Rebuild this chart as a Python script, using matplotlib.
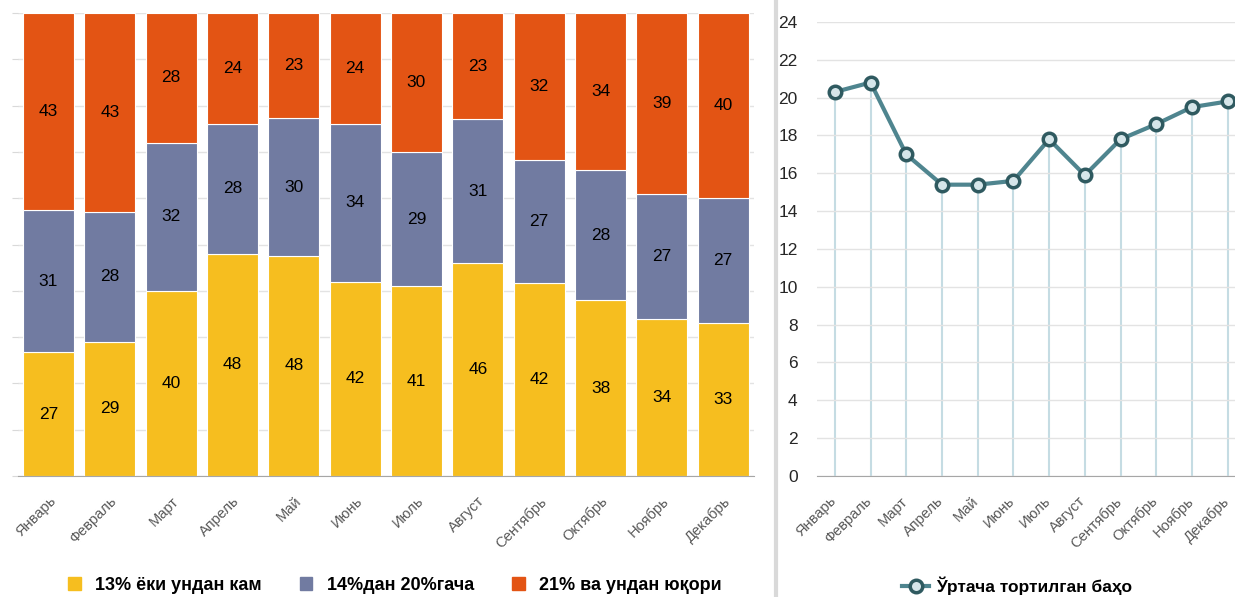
import numpy as np
import matplotlib.pyplot as plt
import matplotlib.transforms as mtransforms
from matplotlib.patches import Patch
from matplotlib.lines import Line2D

plt.rcParams['font.family'] = ['Liberation Sans', 'DejaVu Sans']

months = ['Январь', 'Февраль', 'Март', 'Апрель', 'Май', 'Июнь',
          'Июль', 'Август', 'Сентябрь', 'Октябрь', 'Ноябрь', 'Декабрь']

# share of respondents, %
low = [27, 29, 40, 48, 48, 42, 41, 46, 42, 38, 34, 33]
mid = [31, 28, 32, 28, 30, 34, 29, 31, 27, 28, 27, 27]
high = [43, 43, 28, 24, 23, 24, 30, 23, 32, 34, 39, 40]
series_names = ['13% ёки ундан кам', '14%дан 20%гача', '21% ва ундан юқори']
colors = ['#F6BE1F', '#717BA1', '#E35414']

# weighted average estimate
avg = [20.3, 20.8, 17.0, 15.4, 15.4, 15.6, 17.8, 15.9, 17.8, 18.6, 19.5, 19.8]
avg_name = 'Ўртача тортилган баҳо'

fig = plt.figure(figsize=(12.35, 5.97), dpi=100)

# left: 100% stacked bars
ax1 = fig.add_axes([0.0144, 0.2027, 0.596, 0.7755])
x = np.arange(len(months))
data = np.array([low, mid, high], dtype=float)
shares = data / data.sum(axis=0) * 100
bottom = np.zeros(len(months))
for vals, share, c in zip(data, shares, colors):
    ax1.bar(x, share, 0.83, bottom=bottom, color=c, edgecolor='white', linewidth=0.8, zorder=2)
    for xi, b, s, v in zip(x, bottom, share, vals):
        ax1.text(xi, b + s / 2, f'{v:.0f}', ha='center', va='center', fontsize=12.5, color='black', zorder=3)
    bottom += share
ax1.set_xlim(-0.5, len(months) - 0.5)
ax1.set_ylim(0, 100)
ax1.set_yticks(np.arange(0, 101, 10))
ax1.set_yticklabels([])
ax1.tick_params(axis='y', length=4, color='#d9d9d9')
ax1.grid(axis='y', color='#e3e3e3', lw=1, zorder=0)
ax1.set_xticks(x)
ax1.set_xticklabels(months, rotation=45, ha='right', rotation_mode='anchor', fontsize=10.5, color='#595959')
ax1.tick_params(axis='x', length=0, pad=13)
for s in ['top', 'right', 'left']:
    ax1.spines[s].set_visible(False)
ax1.spines['bottom'].set_color('#a6a6a6')

handles = [Patch(color=c) for c in colors]
fig.legend(handles, series_names, loc='center', bbox_to_anchor=(395 / 1235, 1 - 585 / 597), ncol=3,
           frameon=False, handlelength=0.7, handleheight=0.7, columnspacing=2.1, handletextpad=0.8,
           prop={'weight': 'bold', 'size': 13})

# separator
fig.add_artist(Line2D([776 / 1235, 776 / 1235], [0, 1], color='#d9d9d9', lw=3))

# right: line chart
ax2 = fig.add_axes([817 / 1235, 0.2027, 0.347, 454 / 597])
ax2.vlines(x, 0, avg, color='#c5dce3', lw=1.5, zorder=1)
ax2.plot(x, avg, color='#4f858f', lw=3, marker='o', markersize=9, markerfacecolor='#d6e6ea',
         markeredgecolor='#2f5a60', markeredgewidth=2.5, zorder=3, clip_on=False, label=avg_name)
ax2.set_xlim(-0.5, len(months) - 0.5)
ax2.set_ylim(0, 24)
ax2.set_yticks(np.arange(0, 25, 2))
ax2.tick_params(axis='y', length=0, labelsize=12.5, labelcolor='#262626', pad=14)
ax2.grid(axis='y', color='#e3e3e3', lw=1, zorder=0)
ax2.set_xticks(x)
ax2.set_xticklabels(months, rotation=45, ha='right', rotation_mode='anchor', fontsize=10.5, color='#595959')
ax2.tick_params(axis='x', length=0, pad=13)
shift = mtransforms.ScaledTranslation(-6 / 100, 0, fig.dpi_scale_trans)
for lbl in ax2.get_xticklabels():
    lbl.set_transform(lbl.get_transform() + shift)
for s in ['top', 'right', 'left']:
    ax2.spines[s].set_visible(False)
ax2.spines['bottom'].set_color('#a6a6a6')
ax2.legend(loc='center', bbox_to_anchor=(1017 / 1235, 1 - 586 / 597), bbox_transform=fig.transFigure,
           frameon=False, handlelength=1.6, handletextpad=0.4, prop={'weight': 'bold', 'size': 12.5})

fig.savefig('out.png', dpi=100)
